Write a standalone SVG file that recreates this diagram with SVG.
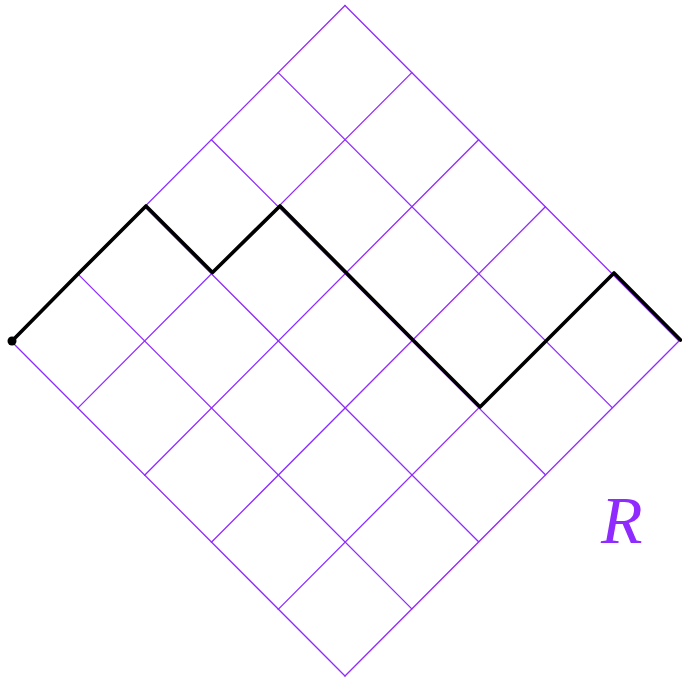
<svg xmlns="http://www.w3.org/2000/svg" width="682" height="681" viewBox="0 0 682 681">
<style>
.g{stroke:#8f2bff;stroke-width:1.3;fill:none;stroke-linecap:round}
.p{stroke:#000;stroke-width:3.6;fill:none;stroke-linejoin:round;stroke-linecap:round}
.lbl{font-family:"Liberation Serif",serif;font-style:italic;font-size:68px;fill:#8f2bff}
</style>
<rect width="682" height="681" fill="#fff"/>
<g id="grid">
<line class="g" x1="11" y1="341" x2="345" y2="5.5"/>
<line class="g" x1="77.8" y1="408.1" x2="411.8" y2="72.6"/>
<line class="g" x1="144.6" y1="475.2" x2="478.6" y2="139.7"/>
<line class="g" x1="211.4" y1="542.3" x2="545.4" y2="206.8"/>
<line class="g" x1="278.2" y1="609.4" x2="612.2" y2="273.9"/>
<line class="g" x1="345" y1="676" x2="679" y2="341"/>
<line class="g" x1="11" y1="341" x2="345" y2="676"/>
<line class="g" x1="77.8" y1="273.9" x2="411.8" y2="608.9"/>
<line class="g" x1="144.6" y1="206.8" x2="478.6" y2="541.8"/>
<line class="g" x1="211.4" y1="139.7" x2="545.4" y2="474.7"/>
<line class="g" x1="278.2" y1="72.6" x2="612.2" y2="407.6"/>
<line class="g" x1="345" y1="5.5" x2="679" y2="341"/>
</g>
<g id="path">
<polyline class="p" points="12,341 79,273 146,206 212.5,272.5 280,206 346.5,273 413,340 480,407 547,340 614,273 680.5,340"/>
<circle cx="12" cy="341" r="4.5" fill="#000"/>
</g>
<g id="label">
<text class="lbl" x="601" y="543">R</text>
</g>
</svg>
